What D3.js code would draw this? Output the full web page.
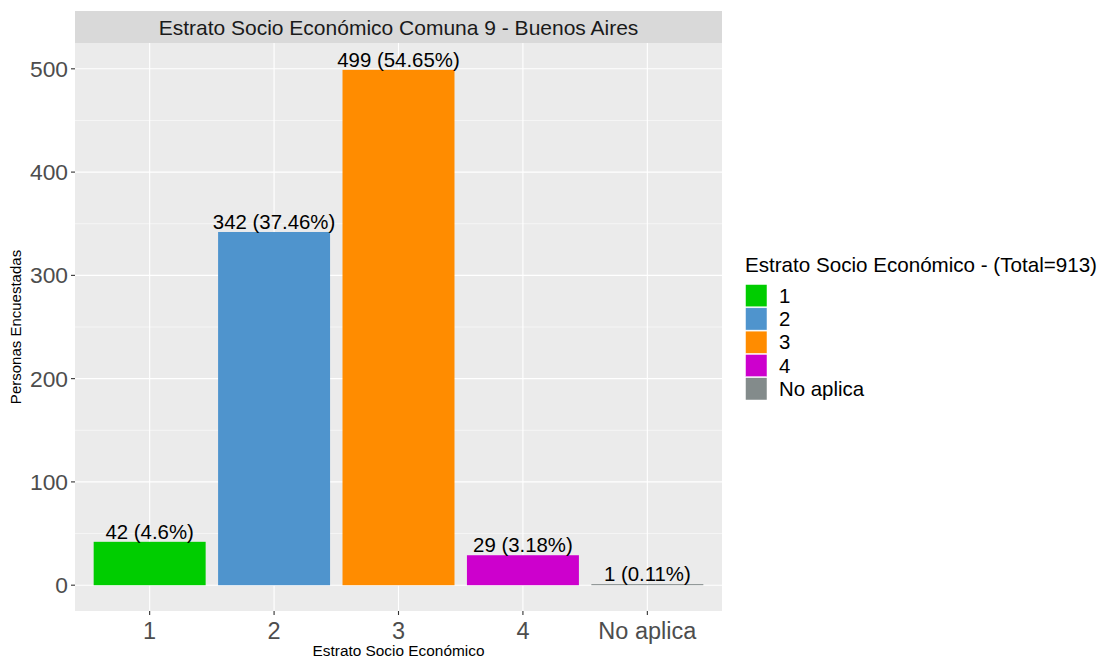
<!DOCTYPE html>
<html>
<head>
<meta charset="utf-8">
<script src="https://cdn.jsdelivr.net/npm/d3@7"></script>
<style>
  body { margin: 0; background: #fff; }
  svg { display: block; font-family: "Liberation Sans", Arial, sans-serif; }
</style>
</head>
<body>
<svg id="chart" width="1099" height="660"></svg>
<script>
const categories = ["1", "2", "3", "4", "No aplica"];
const counts = [42, 342, 499, 29, 1];
const percents = ["4.6", "37.46", "54.65", "3.18", "0.11"];
const colors = ["#00CD00", "#4F94CD", "#FF8C00", "#CD00CD", "#838B8B"];
const yTicks = [0, 100, 200, 300, 400, 500];
const yMinor = [50, 150, 250, 350, 450];
const total = 913;

const svg = d3.select("#chart");
const panel = { left: 75, right: 722, top: 43, bottom: 611 };
const strip = { top: 11, bottom: 43 };

// ggplot: discrete expansion 0.6 units, bar width 0.9
const x = d3.scalePoint().domain(categories)
  .range([panel.left, panel.right]).padding(0.6);
const xc = c => x(c);
const bw = x.step() * 0.9;

const y = d3.scaleLinear().domain([-25, 525]).range([panel.bottom, panel.top]);

// strip
svg.append("rect").attr("x", panel.left).attr("y", strip.top)
  .attr("width", panel.right - panel.left).attr("height", strip.bottom - strip.top)
  .attr("fill", "#D9D9D9");
svg.append("text").attr("x", (panel.left + panel.right) / 2).attr("y", 35)
  .attr("text-anchor", "middle").attr("font-size", 21).attr("fill", "#1A1A1A")
  .text("Estrato Socio Económico Comuna 9 - Buenos Aires");

// panel
svg.append("rect").attr("x", panel.left).attr("y", panel.top)
  .attr("width", panel.right - panel.left).attr("height", panel.bottom - panel.top)
  .attr("fill", "#EBEBEB");

const grid = svg.append("g");
grid.selectAll(".minor").data(yMinor).join("line")
  .attr("x1", panel.left).attr("x2", panel.right)
  .attr("y1", d => y(d)).attr("y2", d => y(d))
  .attr("stroke", "#fff").attr("stroke-width", 0.55);
grid.selectAll(".major").data(yTicks).join("line")
  .attr("x1", panel.left).attr("x2", panel.right)
  .attr("y1", d => y(d)).attr("y2", d => y(d))
  .attr("stroke", "#fff").attr("stroke-width", 1.1);
grid.selectAll(".vmajor").data(categories).join("line")
  .attr("x1", d => xc(d)).attr("x2", d => xc(d))
  .attr("y1", panel.top).attr("y2", panel.bottom)
  .attr("stroke", "#fff").attr("stroke-width", 1.1);

// bars
const data = categories.map((c, i) => ({ c, v: counts[i], p: percents[i], col: colors[i] }));
svg.append("g").selectAll("rect").data(data).join("rect")
  .attr("x", d => xc(d.c) - bw / 2).attr("width", bw)
  .attr("y", d => y(d.v)).attr("height", d => y(0) - y(d.v))
  .attr("fill", d => d.col);

// labels
svg.append("g").selectAll("text").data(data).join("text")
  .attr("x", d => xc(d.c)).attr("y", d => y(d.v) - 3)
  .attr("text-anchor", "middle").attr("font-size", 20.4).attr("fill", "#000")
  .text(d => `${d.v} (${d.p}%)`);

// y axis
const ya = svg.append("g");
ya.selectAll("line").data(yTicks).join("line")
  .attr("x1", panel.left - 4).attr("x2", panel.left)
  .attr("y1", d => y(d)).attr("y2", d => y(d))
  .attr("stroke", "#333").attr("stroke-width", 1.1);
ya.selectAll("text").data(yTicks).join("text")
  .attr("x", panel.left - 7).attr("y", d => y(d) + 8)
  .attr("text-anchor", "end").attr("font-size", 22.8).attr("fill", "#4D4D4D")
  .text(d => d);

// x axis
const xa = svg.append("g");
xa.selectAll("line").data(categories).join("line")
  .attr("x1", d => xc(d)).attr("x2", d => xc(d))
  .attr("y1", panel.bottom).attr("y2", panel.bottom + 4)
  .attr("stroke", "#333").attr("stroke-width", 1.1);
xa.selectAll("text").data(categories).join("text")
  .attr("x", d => xc(d)).attr("y", 639)
  .attr("text-anchor", "middle").attr("font-size", 23.5).attr("fill", "#4D4D4D")
  .text(d => d);

// axis titles
svg.append("text").attr("x", (panel.left + panel.right) / 2).attr("y", 656)
  .attr("text-anchor", "middle").attr("font-size", 15.4).attr("fill", "#000")
  .text("Estrato Socio Económico");
svg.append("text")
  .attr("transform", `translate(21,${(panel.top + panel.bottom) / 2}) rotate(-90)`)
  .attr("text-anchor", "middle").attr("font-size", 15).attr("fill", "#000")
  .text("Personas Encuestadas");

// legend
const lg = svg.append("g").attr("transform", "translate(745,0)");
lg.append("text").attr("x", 0).attr("y", 272).attr("font-size", 20.6).attr("fill", "#000")
  .text(`Estrato Socio Económico - (Total=${total})`);
const keyH = 23.3;
const items = lg.selectAll("g.item").data(data).join("g")
  .attr("transform", (d, i) => `translate(0,${284 + i * keyH})`);
items.append("rect").attr("x", 0.5).attr("y", 0.5).attr("width", 21.5).attr("height", keyH - 1)
  .attr("fill", d => d.col).attr("stroke", "#fff").attr("stroke-width", 0.5);
items.append("text").attr("x", 34).attr("y", keyH / 2 + 7)
  .attr("font-size", 20.4).attr("fill", "#000").text(d => d.c);
</script>
</body>
</html>
